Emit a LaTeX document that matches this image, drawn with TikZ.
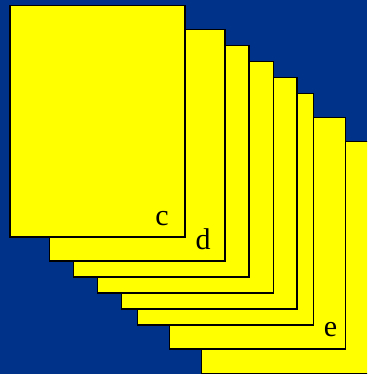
\documentclass[tikz,border=0pt]{standalone}
\usepackage{fontspec}
\setmainfont{Liberation Serif}
\definecolor{bgblue}{RGB}{0,50,138}
\definecolor{sheet}{RGB}{255,255,0}
\tikzset{
  page/.style={fill=sheet,draw=black,line width=1.2pt},
  tag/.style={font=\fontsize{30}{30}\selectfont,inner sep=0pt,text=black}
}
\begin{document}
\begin{tikzpicture}[x=1pt,y=-1pt]
\useasboundingbox (0,0) rectangle (367,374);
\fill[bgblue] (0,0) rectangle (367,374);
\clip (0,0) rectangle (367,374);
\draw[page] (201.7,141.7) rectangle (377,373.3);
\draw[page] (169.7,117.7) rectangle (345.3,349);
\draw[page] (137.7,93.7) rectangle (313.3,325);
\draw[page] (121.7,77.7) rectangle (297,309);
\draw[page] (97.7,61.7) rectangle (273.3,293);
\draw[page] (73.7,45.7) rectangle (249,277);
\draw[page] (49.7,29.7) rectangle (225,261);
\draw[page] (10,5.3) rectangle (185,237);
\node[tag,anchor=base] (lc) at (162,225) {c};
\node[tag,anchor=base] (ld) at (203,249) {d};
\node[tag,anchor=base] (le) at (330.5,336.5) {e};
\end{tikzpicture}
\end{document}
